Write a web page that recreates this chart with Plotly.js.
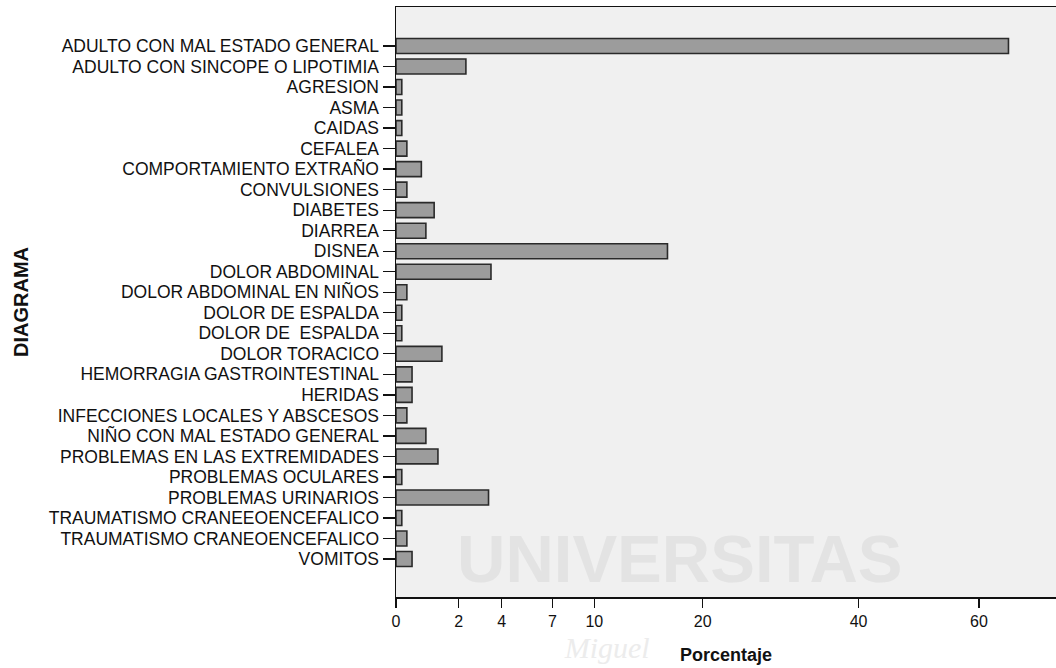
<!DOCTYPE html>
<html>
<head>
<meta charset="utf-8">
<script src="https://cdn.plot.ly/plotly-3.0.1.min.js"></script>
<style>
  html, body { margin: 0; padding: 0; background: #ffffff; overflow: hidden; }
  #chart { width: 1056px; height: 668px; }
</style>
</head>
<body>
<div id="chart"></div>
<script>
// Categories (top to bottom)
const categories = [
  "ADULTO CON MAL ESTADO GENERAL",
  "ADULTO CON SINCOPE O LIPOTIMIA",
  "AGRESION",
  "ASMA",
  "CAIDAS",
  "CEFALEA",
  "COMPORTAMIENTO EXTRAÑO",
  "CONVULSIONES",
  "DIABETES",
  "DIARREA",
  "DISNEA",
  "DOLOR ABDOMINAL",
  "DOLOR ABDOMINAL EN NIÑOS",
  "DOLOR DE ESPALDA",
  "DOLOR DE\u00a0 ESPALDA",
  "DOLOR TORACICO",
  "HEMORRAGIA GASTROINTESTINAL",
  "HERIDAS",
  "INFECCIONES LOCALES Y ABSCESOS",
  "NIÑO CON MAL ESTADO GENERAL",
  "PROBLEMAS EN LAS EXTREMIDADES",
  "PROBLEMAS OCULARES",
  "PROBLEMAS URINARIOS",
  "TRAUMATISMO CRANEEOENCEFALICO",
  "TRAUMATISMO CRANEOENCEFALICO",
  "VOMITOS"
];

// Percentages
const percentages = [
  65.5, 2.3, 0.14, 0.14, 0.14, 0.27, 0.68, 0.27, 1.09, 0.82,
  16.4, 3.45, 0.27, 0.14, 0.14, 1.36, 0.41, 0.41, 0.27, 0.82,
  1.22, 0.14, 3.33, 0.14, 0.27, 0.41
];

// Axis tick labels
const tickValues = [0, 2, 4, 7, 10, 20, 40, 60];

// The original axis uses a square-root style scale: sqrt(v + 1) - 1
function axisScale(v) { return Math.sqrt(v + 1) - 1; }

const trace = {
  type: 'bar',
  orientation: 'h',
  y: categories,
  x: percentages.map(axisScale),
  customdata: percentages,
  hovertemplate: '%{y}: %{customdata}%<extra></extra>',
  width: 0.73,
  marker: {
    color: '#9c9c9c',
    line: { color: '#2a2a2a', width: 1.6 }
  }
};

const layout = {
  width: 1056,
  height: 668,
  margin: { l: 396, r: 0, t: 7, b: 71 },
  paper_bgcolor: '#ffffff',
  plot_bgcolor: '#f0f0f0',
  showlegend: false,
  font: { family: 'Liberation Sans, Arial, sans-serif', color: '#111111' },
  xaxis: {
    range: [0, 7.71],
    tickmode: 'array',
    tickvals: tickValues.map(axisScale),
    ticktext: tickValues.map(String),
    ticks: 'outside',
    ticklen: 9,
    tickwidth: 1.3,
    tickcolor: '#111111',
    showline: true,
    linecolor: '#111111',
    linewidth: 1.5,
    mirror: true,
    showgrid: false,
    zeroline: false,
    tickfont: { size: 16, family: 'Liberation Sans, Arial, sans-serif', color: '#111111' },
    title: {
      text: 'Porcentaje',
      font: { size: 18, family: 'Liberation Sans, Arial, sans-serif', weight: 'bold', color: '#111111' },
      standoff: 19
    },
    fixedrange: true
  },
  yaxis: {
    type: 'category',
    categoryorder: 'array',
    categoryarray: categories,
    tickmode: 'array',
    tickvals: categories,
    ticktext: categories,
    range: [26.85, -1.9],
    ticks: 'outside',
    ticklen: 12,
    tickwidth: 1.3,
    tickcolor: '#111111',
    showline: true,
    linecolor: '#111111',
    linewidth: 1.5,
    showgrid: false,
    zeroline: false,
    tickfont: { size: 17.5, family: 'Liberation Sans, Arial, sans-serif', color: '#111111' },
    title: {
      text: 'DIAGRAMA',
      font: { size: 20, family: 'Liberation Sans, Arial, sans-serif', weight: 'bold', color: '#111111' },
      standoff: 14
    },
    fixedrange: true
  },
  shapes: [
    {
      type: 'rect', xref: 'x domain', yref: 'y domain',
      x0: 0.41, x1: 0.45, y0: 0.06, y1: 0.09,
      line: { width: 0 }, fillcolor: 'rgba(0,0,0,0)', layer: 'below',
      label: {
        text: 'UNIVERSITAS',
        textposition: 'middle center',
        font: { size: 67, family: 'Liberation Sans, Arial, sans-serif', weight: 'bold', color: '#e3e3e3' }
      }
    },
    {
      type: 'rect', xref: 'paper', yref: 'paper',
      x0: 0.29, x1: 0.35, y0: -0.085, y1: -0.075,
      line: { width: 0 }, fillcolor: 'rgba(0,0,0,0)', layer: 'below',
      label: {
        text: '<i>Miguel</i>',
        textposition: 'middle center',
        font: { size: 30, family: 'Liberation Serif, serif', color: '#ececec' }
      }
    }
  ]
};

Plotly.newPlot('chart', [trace], layout, { displayModeBar: false, staticPlot: true });
</script>
</body>
</html>
